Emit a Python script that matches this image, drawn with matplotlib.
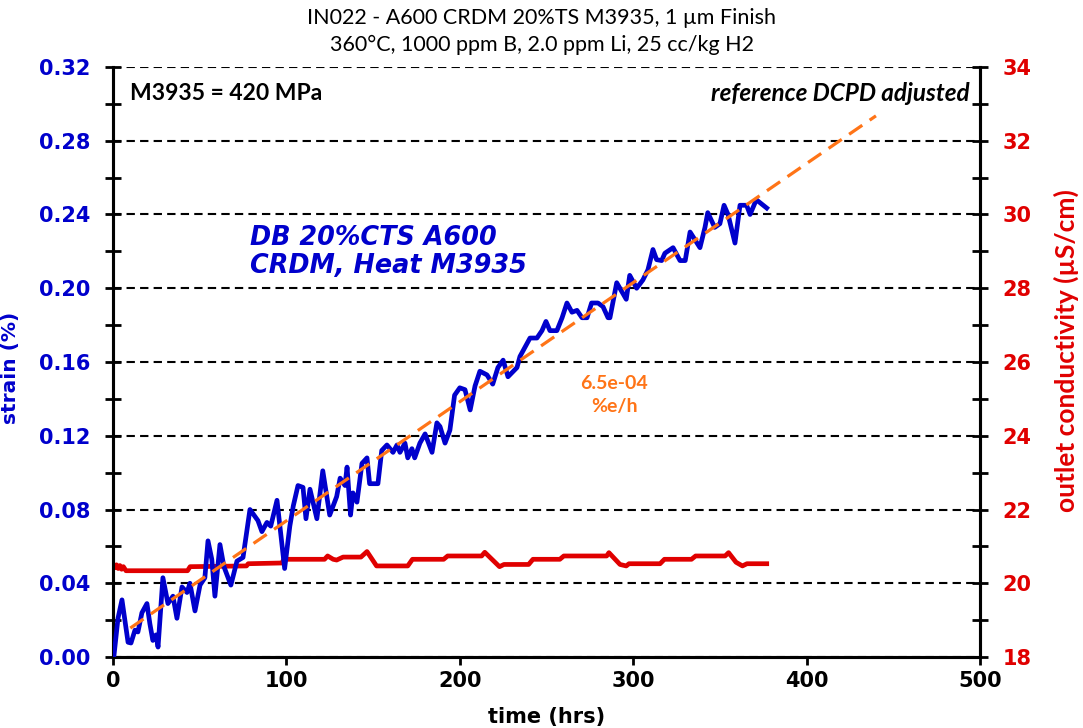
import matplotlib
matplotlib.use("Agg")
import matplotlib.pyplot as plt
from matplotlib.ticker import MultipleLocator

# strain (%) vs time (hrs)
time_h = [0.5, 2.9, 5.2, 8.7, 10.4, 12.7, 14.4, 16.7, 19.6, 21.3, 23, 24.8, 26, 28.8,
          31.7, 34.6, 36.9, 39.8, 42.7, 44.4, 47.3, 50.2, 53, 54.8, 57, 58.8, 61.7, 64,
          68, 71.5, 73.2, 75, 79, 83.6, 85.9, 88.8, 91, 94.6, 99, 102, 104, 106.7, 109.6,
          111.3, 113.6, 117.6, 121, 125, 129, 131, 133.8, 135, 137, 138.4, 140.7, 143.6,
          146.5, 148, 152.8, 155, 158, 161.5, 163.8, 165.5, 168.4, 170, 172.4, 174, 177,
          180, 184, 186.8, 188.6, 191.5, 194.3, 197, 200, 203, 206, 208.8, 211.6, 215.7,
          219, 222, 225, 227.8, 233, 234.7, 237.6, 240.5, 244.5, 247.4, 249.7, 252, 256,
          259, 261.8, 264.7, 267.6, 270.5, 273.4, 276, 279.7, 282.6, 285.5, 286.6, 290.5,
          296, 298, 302, 305.6, 308.5, 311.4, 313.5, 316.4, 318.3, 323, 327, 330, 332.8,
          338.5, 341.4, 343, 347, 350, 352.4, 354.7, 358.7, 361.6, 365.4, 367.4, 371, 377]
strain = [0.0, 0.021, 0.031, 0.008, 0.0076, 0.0146, 0.0136, 0.024, 0.029, 0.018, 0.009,
          0.012, 0.0054, 0.043, 0.029, 0.033, 0.021, 0.038, 0.035, 0.040, 0.025, 0.039,
          0.043, 0.063, 0.053, 0.033, 0.061, 0.049, 0.039, 0.052, 0.053, 0.054, 0.080,
          0.074, 0.068, 0.073, 0.071, 0.085, 0.048, 0.071, 0.082, 0.093, 0.092, 0.075,
          0.091, 0.075, 0.101, 0.077, 0.087, 0.097, 0.093, 0.103, 0.077, 0.089, 0.084,
          0.105, 0.108, 0.094, 0.094, 0.112, 0.115, 0.111, 0.115, 0.111, 0.116, 0.108,
          0.113, 0.108, 0.116, 0.121, 0.111, 0.127, 0.125, 0.116, 0.123, 0.142, 0.146,
          0.145, 0.134, 0.147, 0.155, 0.153, 0.148, 0.157, 0.161, 0.152, 0.157, 0.163,
          0.168, 0.173, 0.173, 0.177, 0.182, 0.177, 0.177, 0.184, 0.192, 0.187, 0.188,
          0.184, 0.184, 0.192, 0.192, 0.190, 0.184, 0.184, 0.203, 0.194, 0.207, 0.200,
          0.2045, 0.210, 0.221, 0.2155, 0.215, 0.219, 0.222, 0.215, 0.215, 0.2305, 0.222,
          0.233, 0.241, 0.233, 0.235, 0.245, 0.240, 0.2245, 0.245, 0.245, 0.240, 0.248,
          0.2435]

# outlet conductivity (uS/cm)
cond_time = [0, 1, 2, 3, 4, 5, 6, 7.5, 43, 44.5, 77, 78, 97.5, 98.5, 122, 123.8, 127,
             129, 132.7, 143, 146.5, 152, 170, 172.7, 190.7, 193, 212.6, 214.4, 222.9,
             225.5, 239.7, 242.2, 257.7, 260, 284.7, 286, 292.4, 296, 297.6, 315.5, 318,
             333.6, 336, 353, 355, 359.3, 363, 365.6, 377]
cond = [20.49, 20.42, 20.5, 20.4, 20.48, 20.38, 20.45, 20.34, 20.34, 20.45, 20.47, 20.53,
        20.55, 20.65, 20.65, 20.74, 20.65, 20.63, 20.71, 20.71, 20.86, 20.47, 20.47, 20.65,
        20.65, 20.74, 20.74, 20.84, 20.45, 20.51, 20.51, 20.65, 20.65, 20.74, 20.74, 20.83,
        20.51, 20.47, 20.53, 20.53, 20.65, 20.65, 20.74, 20.74, 20.83, 20.57, 20.47, 20.53,
        20.53]

# linear fit, 6.5e-04 %e/h
fit_x = [10, 440]
fit_y = [0.0157, 0.2935]

blue = "#0000CC"
red = "#E00000"
orange = "#FF7417"
calibri = ["Lato", "DejaVu Sans"]

fig = plt.figure(figsize=(10.83, 7.28), dpi=100)
ax = fig.add_axes([0.1043, 0.0975, 0.8006, 0.8105])
ax2 = ax.twinx()

ax.plot(time_h, strain, color=blue, lw=3.4, zorder=4)
ax.plot(fit_x, fit_y, color=orange, lw=2.3, ls=(0, (5, 2.8)), zorder=5)
ax2.plot(cond_time, cond, color=red, lw=3.4)
ax.set_zorder(ax2.get_zorder() + 1)
ax.patch.set_visible(False)

ax.set_xlim(0, 500)
ax.set_ylim(0, 0.32)
ax2.set_ylim(18, 34)
ax.xaxis.set_major_locator(MultipleLocator(100))
ax.yaxis.set_major_locator(MultipleLocator(0.04))
ax.yaxis.set_minor_locator(MultipleLocator(0.02))
ax2.yaxis.set_major_locator(MultipleLocator(2))
ax2.yaxis.set_minor_locator(MultipleLocator(1))
ax.yaxis.set_major_formatter(matplotlib.ticker.FormatStrFormatter("%.2f"))

ax.yaxis.grid(True, color="black", ls=(0, (4, 2.5)), lw=1.5)
ax.get_ygridlines()[-1].set_color("#999999")
ax.get_ygridlines()[-1].set_linewidth(1.0)

for a in (ax, ax2):
    a.spines["top"].set_visible(False)
    for s in ("left", "right", "bottom"):
        a.spines[s].set_linewidth(2.2)

ax.tick_params(axis="y", which="both", direction="inout", length=12, width=2,
               labelcolor=blue, labelsize=15, pad=10)
ax.tick_params(axis="x", direction="out", length=6, width=2, labelsize=15, pad=4)
ax2.tick_params(axis="y", which="both", direction="inout", length=12, width=2,
                labelcolor=red, labelsize=15, pad=10)
for lab in ax.get_xticklabels() + ax.get_yticklabels() + ax2.get_yticklabels():
    lab.set_fontweight("bold")

ax.set_xlabel("time (hrs)", fontsize=15, fontweight="bold")
ax.xaxis.set_label_coords(0.5, -0.085)
ax.set_ylabel("strain (%)", fontsize=14.5, fontweight="bold", color=blue)
ax.yaxis.set_label_coords(-0.107, 0.49)
ax2.set_ylabel("outlet conductivity (µS/cm)", fontsize=19, fontweight="bold",
               color=red, family=calibri, va="center", rotation=90)
ax2.yaxis.set_label_coords(1.1, 0.52)

fig.text(0.5, 0.975, "IN022 - A600 CRDM 20%TS M3935, 1 µm Finish", ha="center",
         va="center", fontsize=15.5, family=calibri)
fig.text(0.5, 0.938, "360°C, 1000 ppm B, 2.0 ppm Li, 25 cc/kg H2", ha="center",
         va="center", fontsize=15.5, family=calibri)

ax.text(0.02, 0.955, "M3935 = 420 MPa", transform=ax.transAxes, ha="left", va="center",
        fontsize=16.5, fontweight="bold", family=calibri)
ax.text(0.988, 0.955, "reference DCPD adjusted", transform=ax.transAxes, ha="right",
        va="center", fontsize=17.5, fontweight="bold", style="italic", family=calibri)
ax.text(0.158, 0.686, "DB 20%CTS A600\nCRDM, Heat M3935", transform=ax.transAxes,
        ha="left", va="center", fontsize=18.4, fontweight="bold", style="italic",
        color=blue, linespacing=1.1)
ax.text(0.578, 0.444, "6.5e-04\n%e/h", transform=ax.transAxes, ha="center", va="center",
        fontsize=14, fontweight="bold", color=orange, family=calibri, linespacing=1.45)

fig.savefig("out.png", dpi=100)
